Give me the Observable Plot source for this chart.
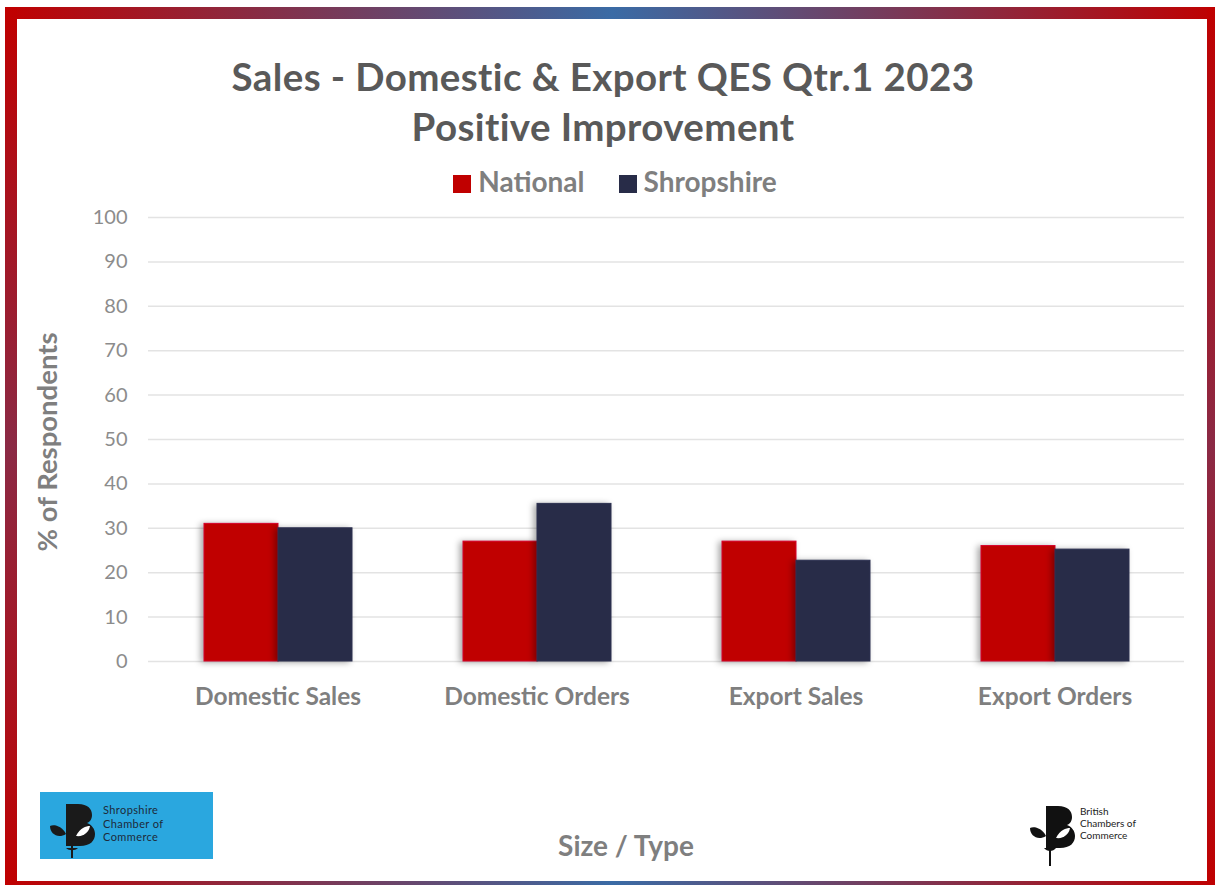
<!DOCTYPE html>
<html>
<head>
<meta charset="utf-8">
<script src="https://cdn.jsdelivr.net/npm/d3@7"></script>
<script src="https://cdn.jsdelivr.net/npm/@observablehq/plot@0.6"></script>
<style>
  html, body { margin: 0; padding: 0; background: #fff; }
  #page { position: relative; width: 1215px; height: 885px; overflow: hidden; font-family: Lato, "Open Sans", sans-serif; }
  .strip { position: absolute; }
  #top { left: 5px; top: 7px; width: 1215px; height: 12px; border-top-left-radius: 6px;
         background: linear-gradient(to right, #c00000 0%, #3a6ba5 50%, #c00000 100%); }
  #bottom { left: 5px; top: 881px; width: 1215px; height: 12px;
         background: linear-gradient(to right, #c00000 0%, #3a6ba5 50%, #c00000 100%); }
  #left { left: 5px; top: 7px; width: 12px; height: 880px;
         background: linear-gradient(to bottom, #c00000 0%, #8b2a45 50%, #c00000 100%); }
  #right { left: 1207px; top: 7px; width: 12px; height: 880px;
         background: linear-gradient(to bottom, #c00000 0%, #8b2a45 50%, #c00000 100%); }
  .title { position: absolute; left: 0; width: 1206px; text-align: center; color: #595959;
           font-weight: 700; font-size: 38.5px; letter-spacing: 0.4px; }
  #legend { position: absolute; top: 164px; left: 0; width: 1230px; display: flex; justify-content: center;
            gap: 34px; font-weight: 700; font-size: 28px; color: #7f7f7f; }
  #legend span.sw { display: inline-block; width: 18px; height: 18px; margin-right: 7px; vertical-align: -1px; }
  #ylabel { position: absolute; left: 46px; top: 442px; transform: translate(-50%, -50%) rotate(-90deg);
            font-weight: 700; font-size: 27.5px; color: #7f7f7f; white-space: nowrap; }
  #xlabel { position: absolute; left: 626px; top: 845px; transform: translate(-50%, -50%);
            font-weight: 700; font-size: 28px; color: #7f7f7f; white-space: nowrap; }
  #chart { position: absolute; left: 0; top: 200px; }
  #chart rect.bar { filter: drop-shadow(-3px 1px 3px rgba(0,0,0,0.35)); }
  #logo1 { position: absolute; left: 40px; top: 792px; width: 173px; height: 67px; background: #2aa7df; }
  #logo2 { position: absolute; left: 1030px; top: 800px; width: 130px; height: 68px; }
</style>
</head>
<body>
<div id="page">
  <div class="strip" id="top"></div>
  <div class="strip" id="left"></div>
  <div class="strip" id="right"></div>
  <div class="strip" id="bottom"></div>

  <div class="title" style="top:53px;">Sales - Domestic &amp; Export QES Qtr.1 2023</div>
  <div class="title" style="top:103px;">Positive Improvement</div>
  <div id="legend"></div>
  <div id="ylabel">% of Respondents</div>
  <div id="xlabel">Size / Type</div>
  <div id="chart"></div>

  <div id="logo1">
    <svg width="173" height="67" viewBox="0 0 173 67">
      <path d="M26 12 h12 c10 0 14 5 14 11 c0 4 -2 7 -5 8 c5 2 8 6 8 11 c0 7 -5 12 -15 12 h-14 z" fill="#1a1a1a"/>
      <path d="M36 44 c4 -8 10 -10 14 -10 c-1 6 -6 11 -14 10 z" fill="#fff"/>
      <path d="M26 42 c-4 -8 -12 -10 -16 -8 c0 8 8 13 16 8 z" fill="#1a1a1a"/>
      <rect x="31" y="50" width="2" height="16" fill="#1a1a1a"/>
      <path d="M26 56 c3 3 9 3 12 0 z" fill="#1a1a1a"/>
      <text x="63" y="22" font-size="11" fill="#1d2a3a" font-family="Lato, sans-serif" letter-spacing="0.4">Shropshire</text>
      <text x="63" y="35.5" font-size="11" fill="#1d2a3a" font-family="Lato, sans-serif" letter-spacing="0.4">Chamber of</text>
      <text x="63" y="49" font-size="11" fill="#1d2a3a" font-family="Lato, sans-serif" letter-spacing="0.4">Commerce</text>
    </svg>
  </div>
  <div id="logo2">
    <svg width="130" height="68" viewBox="0 0 130 68">
      <path d="M16 6 h12 c10 0 14 5 14 11 c0 4 -2 7 -5 8 c5 2 8 6 8 11 c0 7 -5 12 -15 12 h-14 z" fill="#111"/>
      <path d="M26 38 c4 -8 10 -10 14 -10 c-1 6 -6 11 -14 10 z" fill="#fff"/>
      <path d="M16 36 c-4 -8 -12 -10 -16 -8 c0 8 8 13 16 8 z" fill="#111"/>
      <rect x="19" y="44" width="2" height="22" fill="#111"/>
      <path d="M14 48 c3 4 9 4 12 0 z" fill="#111"/>
      <text x="50" y="15" font-size="10" fill="#222" font-family="Lato, sans-serif">British</text>
      <text x="50" y="27" font-size="10" fill="#222" font-family="Lato, sans-serif">Chambers of</text>
      <text x="50" y="39" font-size="10" fill="#222" font-family="Lato, sans-serif">Commerce</text>
    </svg>
  </div>
</div>
<script>
const categories = ["Domestic Sales", "Domestic Orders", "Export Sales", "Export Orders"];
const seriesNames = ["National", "Shropshire"];
const nationalValues = [31, 27, 27, 26];
const shropshireValues = [30, 35.5, 22.7, 25.2];
const seriesColors = ["#c00000", "#282c48"];
const yTicks = [0, 10, 20, 30, 40, 50, 60, 70, 80, 90, 100];

const rows = [];
categories.forEach((c, i) => {
  rows.push({category: c, series: seriesNames[0], value: nationalValues[i]});
  rows.push({category: c, series: seriesNames[1], value: shropshireValues[i]});
});

// Legend
const legend = document.getElementById("legend");
seriesNames.forEach((s, i) => {
  const d = document.createElement("div");
  d.innerHTML = `<span class="sw" style="background:${seriesColors[i]}"></span>${s}`;
  legend.appendChild(d);
});

const chart = Plot.plot({
  width: 1215,
  height: 510,
  marginTop: 17,
  marginBottom: 49,
  marginLeft: 147,
  marginRight: 30,
  style: {fontFamily: "Lato, 'Open Sans', sans-serif", background: "transparent"},
  fx: {domain: categories, padding: 0, label: null},
  x: {domain: seriesNames, paddingInner: 0, paddingOuter: 0.727, axis: null},
  y: {domain: [0, 100], label: null},
  color: {domain: seriesNames, range: seriesColors},
  marks: [
    Plot.gridY(yTicks, {stroke: "#e3e3e3", strokeOpacity: 1, strokeWidth: 1.5}),
    Plot.axisY(yTicks, {tickSize: 0, tickPadding: 21, fontSize: 20, fill: "#8c8c8c", label: null}),
    Plot.axisFx({anchor: "bottom", tickSize: 0, tickPadding: 26, fontSize: 24.5, fontWeight: 700, fill: "#7f7f7f", label: null}),
    Plot.barY(rows, {
      fx: "category", x: "series", y: "value", fill: "series",
      stroke: d => d.series === "National" ? "#d8002a" : "#2c3050",
      strokeWidth: 1, className: "bar"
    })
  ]
});
chart.querySelectorAll("g[aria-label='bar'] rect").forEach(r => r.classList.add("bar"));
document.getElementById("chart").appendChild(chart);
</script>
</body>
</html>
